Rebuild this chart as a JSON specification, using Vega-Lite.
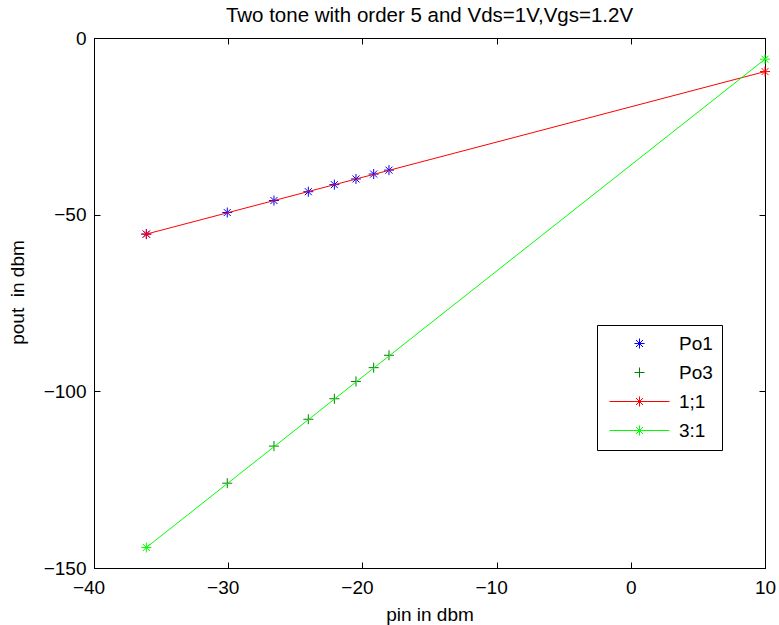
{
  "$schema": "https://vega.github.io/schema/vega-lite/v6.json",
  "autosize": {"type": "none"},
  "padding": {"left": 94, "top": 38, "right": 14, "bottom": 57},
  "width": 671,
  "height": 530,
  "background": "white",
  "title": {
    "text": "Two tone with order 5 and Vds=1V,Vgs=1.2V",
    "font": "Liberation Sans",
    "fontSize": 20.5,
    "fontWeight": "normal",
    "color": "black",
    "anchor": "middle",
    "frame": "group",
    "offset": 3
  },
  "config": {
    "view": {"stroke": "black", "strokeWidth": 1},
    "axis": {
      "grid": false,
      "labelFlush": false,
      "labelOverlap": false,
      "domainColor": "black",
      "domainWidth": 1,
      "tickColor": "black",
      "tickWidth": 1,
      "labelColor": "black",
      "titleColor": "black",
      "labelFont": "Liberation Sans",
      "titleFont": "Liberation Sans",
      "labelFontSize": 19,
      "titleFontSize": 19,
      "titleFontWeight": "normal"
    },
    "legend": {
      "orient": "none",
      "legendX": 503,
      "legendY": 287,
      "strokeColor": "black",
      "fillColor": "white",
      "padding": 9,
      "symbolOffset": 24,
      "labelOffset": 30,
      "rowPadding": 9,
      "labelFont": "Liberation Sans",
      "labelFontSize": 19,
      "labelColor": "black",
      "symbolSize": 100,
      "symbolStrokeWidth": 1,
      "symbolFillColor": "transparent"
    }
  },
  "data": {
    "values": [
      {"pin": -36.1, "pout": -55.5, "series": "Po1", "kind": "pt"},
      {"pin": -30.07, "pout": -49.4, "series": "Po1", "kind": "pt"},
      {"pin": -26.59, "pout": -46.0, "series": "Po1", "kind": "pt"},
      {"pin": -24.03, "pout": -43.5, "series": "Po1", "kind": "pt"},
      {"pin": -22.09, "pout": -41.5, "series": "Po1", "kind": "pt"},
      {"pin": -20.48, "pout": -39.9, "series": "Po1", "kind": "pt"},
      {"pin": -19.16, "pout": -38.5, "series": "Po1", "kind": "pt"},
      {"pin": -18.02, "pout": -37.4, "series": "Po1", "kind": "pt"},
      {"pin": -30.07, "pout": -126.0, "series": "Po3", "kind": "pt"},
      {"pin": -26.59, "pout": -115.5, "series": "Po3", "kind": "pt"},
      {"pin": -24.03, "pout": -107.9, "series": "Po3", "kind": "pt"},
      {"pin": -22.09, "pout": -102.1, "series": "Po3", "kind": "pt"},
      {"pin": -20.48, "pout": -97.2, "series": "Po3", "kind": "pt"},
      {"pin": -19.16, "pout": -93.3, "series": "Po3", "kind": "pt"},
      {"pin": -18.02, "pout": -89.8, "series": "Po3", "kind": "pt"},
      {"pin": -36.1, "pout": -55.5, "series": "1;1", "kind": "line"},
      {"pin": 10, "pout": -9.5, "series": "1;1", "kind": "line"},
      {"pin": -36.1, "pout": -144.2, "series": "3:1", "kind": "line"},
      {"pin": 10, "pout": -6.0, "series": "3:1", "kind": "line"}
    ]
  },
  "encoding": {
    "color": {
      "field": "series",
      "type": "nominal",
      "title": null,
      "scale": {
        "domain": ["Po1", "Po3", "1;1", "3:1"],
        "range": ["#0000ff", "#008000", "#ff0000", "#00ff00"]
      }
    }
  },
  "layer": [
    {
      "transform": [{"filter": "datum.kind === 'pt'"}],
      "mark": {"type": "point", "filled": false, "strokeWidth": 1, "size": 100, "opacity": 1},
      "encoding": {
        "x": {
          "field": "pin", "type": "quantitative",
          "scale": {"domain": [-40, 10], "nice": false, "zero": false},
          "axis": {
            "orient": "bottom",
            "title": "pin in dbm",
            "values": [-40, -30, -20, -10, 0, 10],
            "tickSize": -6,
            "labelPadding": 16,
            "labelOffset": {"condition": {"test": "datum.value < 0", "value": -5.5}, "value": 0},
            "titlePadding": 8
          }
        },
        "y": {
          "field": "pout", "type": "quantitative",
          "scale": {"domain": [-150, 0], "nice": false, "zero": false},
          "axis": {
            "orient": "left",
            "title": "pout \u00a0in dbm",
            "values": [-150, -100, -50, 0],
            "tickSize": -6,
            "labelPadding": 14,
            "titlePadding": 16,
            "titleY": 254
          }
        },
        "shape": {
          "field": "series", "type": "nominal",
          "title": null,
          "scale": {
            "domain": ["Po1", "Po3", "1;1", "3:1"],
            "range": [
              "M-1,0L1,0M0,-1L0,1M-0.7,-0.7L0.7,0.7M-0.7,0.7L0.7,-0.7",
              "M-1,0L1,0M0,-1L0,1",
              "M-6,0L6,0M0,-1L0,1M-0.7,-0.7L0.7,0.7M-0.7,0.7L0.7,-0.7",
              "M-6,0L6,0M0,-1L0,1M-0.7,-0.7L0.7,0.7M-0.7,0.7L0.7,-0.7"
            ]
          }
        }
      }
    },
    {
      "transform": [{"filter": "datum.kind === 'line'"}],
      "mark": {"type": "line", "strokeWidth": 1},
      "encoding": {
        "x": {
          "field": "pin", "type": "quantitative",
          "scale": {"domain": [-40, 10], "nice": false, "zero": false},
          "axis": {"orient": "top", "title": null, "labels": false, "values": [-40, -30, -20, -10, 0, 10], "tickSize": -6}
        },
        "y": {
          "field": "pout", "type": "quantitative",
          "scale": {"domain": [-150, 0], "nice": false, "zero": false},
          "axis": {"orient": "right", "title": null, "labels": false, "values": [-150, -100, -50, 0], "tickSize": -6}
        }
      }
    },
    {
      "transform": [{"filter": "datum.kind === 'line'"}],
      "mark": {
        "type": "point", "filled": false, "strokeWidth": 1, "size": 100, "opacity": 1,
        "shape": "M-1,0L1,0M0,-1L0,1M-0.7,-0.7L0.7,0.7M-0.7,0.7L0.7,-0.7"
      },
      "encoding": {
        "x": {"field": "pin", "type": "quantitative", "scale": {"domain": [-40, 10], "nice": false, "zero": false}, "axis": null},
        "y": {"field": "pout", "type": "quantitative", "scale": {"domain": [-150, 0], "nice": false, "zero": false}, "axis": null}
      }
    }
  ],
  "resolve": {"axis": {"x": "independent", "y": "independent"}}
}
